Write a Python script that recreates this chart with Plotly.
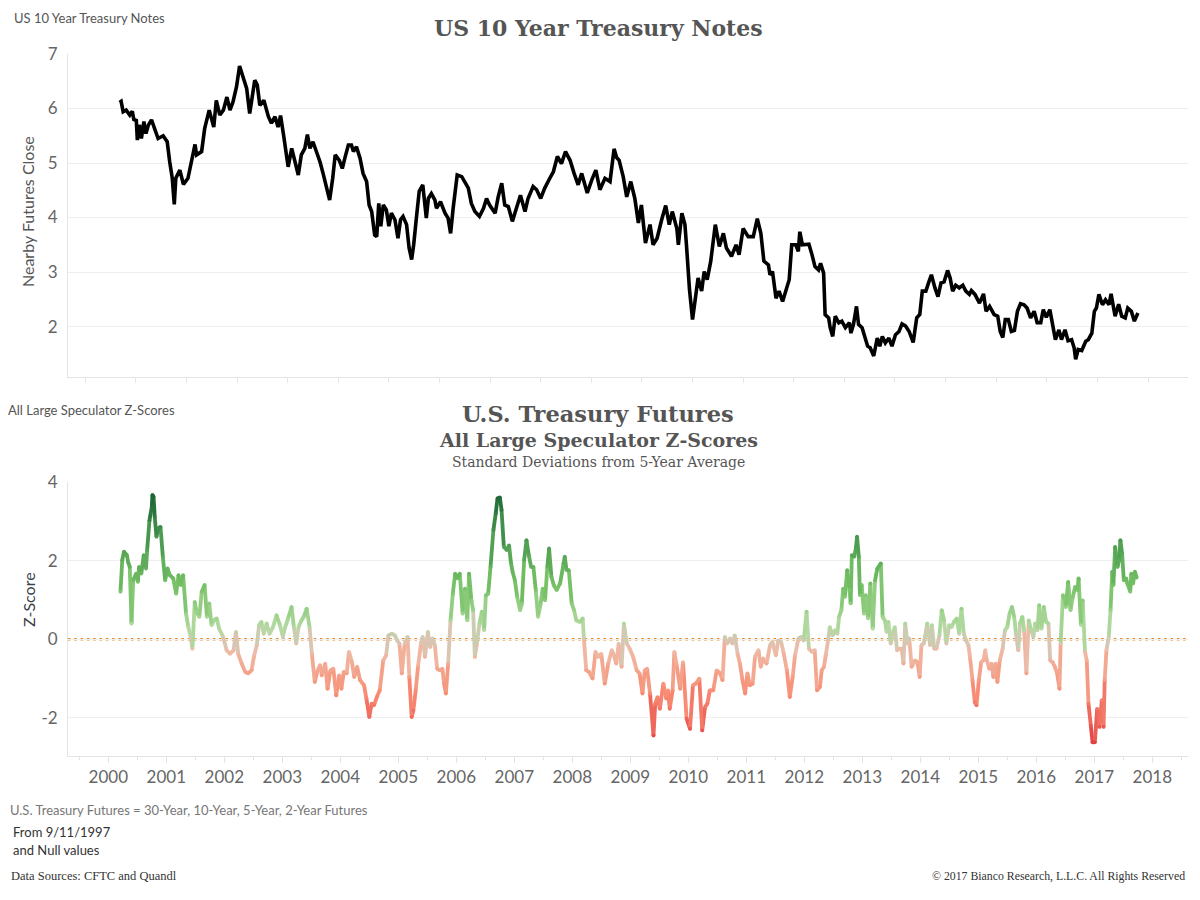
import plotly.graph_objects as go
from plotly.colors import sample_colorscale

# ---------------- DATA ----------------
TSY_YEAR = [1997.68,1997.71,1997.75,1997.81,1997.88,1997.93,1997.96,1998.01,1998.03,1998.07,1998.11,1998.16,1998.20,1998.25,1998.31,1998.37,1998.44,1998.54,1998.62,1998.67,1998.72,1998.76,1998.79,1998.87,1998.94,1999.03,1999.10,1999.17,1999.20,1999.30,1999.36,1999.45,1999.54,1999.59,1999.66,1999.73,1999.80,1999.86,1999.92,1999.99,2000.05,2000.12,2000.19,2000.25,2000.35,2000.40,2000.45,2000.53,2000.62,2000.68,2000.75,2000.81,2000.86,2000.92,2000.98,2001.01,2001.08,2001.14,2001.21,2001.27,2001.34,2001.39,2001.44,2001.50,2001.57,2001.64,2001.70,2001.77,2001.83,2001.89,2001.94,2002.02,2002.08,2002.13,2002.20,2002.26,2002.30,2002.36,2002.43,2002.49,2002.56,2002.61,2002.66,2002.72,2002.76,2002.80,2002.84,2002.89,2002.95,2003.00,2003.05,2003.12,2003.18,2003.23,2003.28,2003.35,2003.40,2003.45,2003.49,2003.55,2003.60,2003.67,2003.71,2003.74,2003.78,2003.84,2003.91,
            2003.94,2004.02,2004.11,2004.17,2004.22,2004.27,2004.35,2004.44,2004.50,2004.57,2004.63,2004.70,2004.79,2004.87,2004.93,2004.99,2005.10,2005.16,2005.23,2005.29,2005.36,2005.44,2005.52,2005.60,2005.69,2005.75,2005.85,2005.92,2006.00,2006.08,2006.18,2006.25,2006.33,2006.41,2006.49,2006.58,2006.66,2006.74,2006.81,2006.92,2007.01,2007.09,2007.17,2007.27,2007.37,2007.45,2007.50,2007.55,2007.63,2007.70,2007.78,2007.86,2007.93,2007.99,2008.07,2008.16,2008.22,2008.30,2008.39,2008.47,2008.54,2008.60,2008.69,2008.72,2008.79,2008.85,2008.88,2008.94,2009.00,2009.05,2009.11,2009.18,2009.23,2009.29,2009.36,2009.45,2009.53,2009.61,2009.67,2009.77,2009.86,2009.92,2010.00,2010.10,2010.20,2010.28,2010.35,2010.41,2010.50,2010.53,2010.58,2010.65,2010.71,2010.78,2010.85,2010.91,2010.96,
            2011.04,2011.09,2011.12,2011.17,2011.24,2011.30,2011.36,2011.42,2011.49,2011.53,2011.59,2011.62,2011.69,2011.72,2011.77,2011.82,2011.89,2011.95,2012.02,2012.10,2012.13,2012.18,2012.24,2012.28,2012.35,2012.42,2012.46,2012.51,2012.58,2012.65,2012.70,2012.75,2012.81,2012.88,2012.94,2013.01,2013.08,2013.14,2013.21,2013.28,2013.36,2013.43,2013.49,2013.54,2013.61,2013.67,2013.72,2013.79,2013.85,2013.91,2013.97,2014.04,2014.09,2014.14,2014.20,2014.27,2014.34,2014.40,2014.47,2014.51,2014.58,2014.67,2014.75,2014.80,2014.87,2014.96,2015.03,2015.08,2015.13,2015.18,2015.24,2015.30,2015.36,2015.42,2015.48,2015.55,2015.61,2015.68,2015.75,2015.81,2015.88,2015.93,2015.99,2016.06,2016.10,2016.17,2016.24,2016.29,2016.36,2016.42,2016.49,2016.54,2016.57,2016.62,2016.69,2016.77,2016.82,2016.89,2016.94,2016.98,2017.03,2017.10,2017.16,2017.23,2017.27,2017.35,2017.42,2017.48,2017.55,2017.60,2017.67,2017.73,2017.80]
TSY_CLOSE = [6.11,6.13,5.94,5.97,5.88,5.95,5.80,5.78,5.42,5.70,5.45,5.76,5.54,5.70,5.79,5.63,5.45,5.50,5.39,5.02,4.72,4.24,4.72,4.87,4.61,4.72,5.05,5.34,5.15,5.21,5.63,5.97,5.66,6.15,5.88,5.97,6.21,5.97,6.12,6.40,6.78,6.55,6.37,5.91,6.52,6.43,6.06,6.15,5.85,5.73,5.85,5.66,5.87,5.51,5.15,4.93,5.27,5.05,4.78,5.15,5.27,5.52,5.27,5.39,5.21,5.02,4.81,4.54,4.32,4.72,5.15,5.05,4.90,5.09,5.33,5.33,5.21,5.30,5.09,4.81,4.66,4.23,4.11,3.68,3.65,4.26,3.84,4.23,4.14,3.84,4.08,3.96,3.62,3.96,4.02,3.87,3.44,3.23,3.50,4.05,4.48,4.60,4.29,3.99,4.35,4.44,4.32,
             4.17,4.29,4.08,3.99,3.71,4.17,4.78,4.75,4.66,4.54,4.26,4.11,4.02,4.17,4.35,4.23,4.08,4.38,4.63,4.23,4.20,3.93,4.17,4.41,4.11,4.35,4.57,4.51,4.35,4.54,4.72,4.84,5.12,4.99,5.21,5.05,4.81,4.60,4.81,4.45,4.69,4.87,4.51,4.72,4.66,5.26,5.10,5.05,4.75,4.38,4.66,4.35,3.90,4.23,3.53,3.87,3.50,3.62,3.96,4.22,3.87,4.11,3.80,3.50,4.08,3.87,3.50,2.68,2.13,2.52,2.89,2.65,3.01,2.86,3.20,3.87,3.47,3.71,3.44,3.29,3.50,3.32,3.80,3.65,3.65,3.98,3.71,3.20,3.13,2.95,3.01,2.52,2.65,2.46,2.65,2.86,3.50,
             3.50,3.38,3.74,3.50,3.50,3.51,3.32,3.10,3.04,3.16,2.98,2.22,2.16,1.98,1.82,2.19,2.07,2.10,1.98,2.07,1.88,2.04,2.37,2.04,1.98,1.76,1.64,1.61,1.46,1.79,1.64,1.82,1.70,1.79,1.64,1.85,1.91,2.05,2.01,1.91,1.71,2.16,2.22,2.65,2.65,2.82,2.95,2.71,2.55,2.80,2.82,3.03,2.89,2.65,2.76,2.71,2.76,2.65,2.59,2.66,2.59,2.43,2.60,2.28,2.37,2.22,2.19,1.91,1.80,2.13,2.13,1.91,1.93,2.28,2.42,2.40,2.34,2.16,2.28,2.07,2.07,2.31,2.17,2.31,2.10,1.76,1.94,1.76,1.94,1.74,1.76,1.61,1.40,1.58,1.56,1.73,1.76,1.88,2.28,2.34,2.59,2.40,2.49,2.40,2.60,2.19,2.41,2.19,2.16,2.34,2.28,2.10,2.25]

Z_YEAR = [2000.21,2000.24,2000.27,2000.32,2000.34,2000.37,2000.40,2000.43,2000.48,2000.51,2000.53,2000.57,2000.61,2000.65,2000.67,2000.71,2000.75,2000.76,2000.78,2000.80,2000.83,2000.86,2000.90,2000.94,2000.98,2001.02,2001.06,2001.12,2001.17,2001.21,2001.25,2001.29,2001.34,2001.38,2001.42,2001.45,2001.49,2001.52,2001.57,2001.61,2001.66,2001.70,2001.74,2001.78,2001.82,2001.87,2001.91,2001.98,2002.04,2002.10,2002.16,2002.20,2002.24,2002.30,2002.36,2002.41,2002.47,2002.51,2002.56,2002.60,2002.64,2002.68,2002.73,2002.78,2002.84,2002.90,2002.96,2003.01,2003.05,2003.10,2003.16,2003.20,2003.24,2003.28,2003.33,2003.37,2003.42,2003.47,2003.51,2003.56,2003.60,2003.65,2003.68,2003.74,2003.78,2003.83,2003.88,2003.93,2003.98,2004.02,2004.06,2004.11,2004.15,2004.20,2004.24,2004.29,2004.34,2004.41,2004.45,2004.50,2004.54,2004.58,2004.63,2004.68,2004.74,2004.79,2004.83,2004.89,2004.94,2004.98,2005.02,2005.06,2005.11,2005.16,2005.19,2005.23,2005.26,2005.30,2005.34,2005.39,2005.42,2005.46,2005.51,2005.55,2005.59,2005.63,2005.67,2005.72,2005.76,2005.79,2005.82,2005.86,2005.90,
          2005.94,2005.98,2006.02,2006.06,2006.11,2006.15,2006.19,2006.22,2006.26,2006.29,2006.32,2006.35,2006.40,2006.44,2006.48,2006.51,2006.55,2006.59,2006.64,2006.68,2006.71,2006.75,2006.78,2006.82,2006.87,2006.91,2006.94,2006.97,2007.01,2007.05,2007.10,2007.13,2007.17,2007.21,2007.25,2007.29,2007.33,2007.37,2007.41,2007.45,2007.49,2007.53,2007.57,2007.60,2007.64,2007.68,2007.73,2007.79,2007.85,2007.87,2007.90,2007.94,2007.99,2008.03,2008.07,2008.13,2008.18,2008.20,2008.24,2008.29,2008.35,2008.40,2008.45,2008.50,2008.56,2008.62,2008.68,2008.72,2008.76,2008.80,2008.85,2008.89,2008.94,2008.99,2009.05,2009.11,2009.16,2009.21,2009.25,2009.29,2009.34,2009.40,2009.43,2009.47,2009.51,2009.57,2009.62,2009.65,2009.68,2009.73,2009.76,2009.80,2009.86,2009.91,2009.97,2010.03,2010.08,2010.13,2010.19,2010.24,2010.29,2010.33,2010.37,2010.43,2010.49,2010.55,2010.59,2010.63,2010.67,2010.72,2010.76,2010.80,2010.85,2010.89,2010.93,2010.98,2011.02,2011.06,2011.11,2011.15,2011.21,2011.25,2011.29,2011.35,2011.41,2011.45,2011.51,2011.55,2011.60,2011.64,2011.70,2011.75,2011.80,2011.84,2011.90,2011.95,2011.99,2012.04,2012.08,2012.13,2012.18,2012.22,
          2012.27,2012.30,2012.34,2012.37,2012.41,2012.44,2012.49,2012.53,2012.57,2012.60,2012.64,2012.67,2012.70,2012.74,2012.78,2012.80,2012.82,2012.86,2012.89,2012.91,2012.94,2012.96,2012.99,2013.03,2013.06,2013.10,2013.14,2013.18,2013.22,2013.26,2013.32,2013.35,2013.39,2013.42,2013.45,2013.49,2013.52,2013.56,2013.60,2013.64,2013.68,2013.71,2013.74,2013.78,2013.81,2013.85,2013.91,2013.95,2013.99,2014.02,2014.06,2014.12,2014.17,2014.20,2014.24,2014.28,2014.33,2014.37,2014.41,2014.45,2014.50,2014.54,2014.58,2014.63,2014.67,2014.71,2014.75,2014.79,2014.83,2014.86,2014.90,2014.94,2014.97,2015.01,2015.05,2015.09,2015.12,2015.14,2015.19,2015.23,2015.26,2015.30,2015.33,2015.37,2015.42,2015.46,2015.50,2015.54,2015.58,2015.62,2015.65,2015.69,2015.72,2015.76,2015.79,2015.83,2015.87,2015.91,2015.95,2015.98,2016.02,2016.05,2016.09,2016.13,2016.17,2016.21,2016.24,2016.28,2016.32,2016.36,2016.40,2016.42,2016.46,2016.48,2016.51,2016.55,2016.59,2016.63,2016.67,2016.71,2016.73,2016.77,2016.80,2016.84,2016.87,2016.90,2016.94,2016.97,2017.01,2017.05,2017.09,2017.13,2017.16,2017.18,2017.21,2017.25,2017.28,2017.31,2017.33,2017.36,2017.40,2017.43,2017.45,2017.48,2017.51,2017.55,2017.57,2017.62,2017.64,2017.67,2017.70,2017.73]
Z_SCORE = [1.21,2.01,2.23,2.14,1.97,1.84,0.40,1.50,1.67,1.46,1.84,1.67,2.14,1.80,2.27,3.03,3.37,3.67,3.63,3.12,2.61,2.82,2.86,2.10,1.50,1.80,1.63,1.55,1.16,1.63,1.38,1.63,0.65,0.31,0.06,-0.24,0.95,0.70,0.57,1.21,1.38,0.57,0.91,0.36,0.48,0.53,0.27,0.06,-0.28,-0.37,-0.28,0.19,-0.37,-0.62,-0.83,-0.87,-0.79,-0.45,-0.15,0.36,0.44,0.14,0.40,0.14,0.31,0.61,0.36,0.06,0.31,0.53,0.82,0.31,-0.11,0.31,0.48,0.57,0.78,0.31,-0.37,-1.09,-0.83,-0.66,-0.92,-0.62,-1.26,-0.79,-0.75,-1.43,-0.92,-1.26,-0.83,-0.87,-0.32,-0.58,-0.96,-0.70,-1.04,-1.17,-1.51,-1.98,-1.64,-1.68,-1.47,-1.30,-0.54,-0.41,0.10,0.14,0.10,-0.03,-0.11,-0.87,-0.11,0.06,-0.96,-1.98,-1.81,-1.30,-0.70,-0.11,0.06,-0.45,0.19,-0.20,0.02,-0.15,-0.75,-0.79,-0.75,-1.13,-1.38,-0.62,0.48,
           1.16,1.67,1.55,1.67,0.65,1.29,0.48,1.67,0.99,0.74,-0.45,-0.15,0.40,0.70,0.23,1.12,1.16,1.84,2.78,3.20,3.58,3.61,3.29,2.35,2.27,2.39,1.97,1.72,1.50,1.08,0.74,0.91,2.01,2.52,2.14,1.84,1.84,1.25,0.57,0.87,1.29,0.99,1.84,2.31,1.59,1.38,1.25,1.42,1.93,2.10,1.76,1.76,0.91,0.74,0.48,0.44,0.53,0.02,-0.79,-0.83,-1.00,-0.32,-0.45,-0.37,-1.13,-0.62,-0.28,-0.41,-0.62,-0.11,-0.70,0.40,-0.11,-0.24,-0.45,-0.79,-0.87,-1.38,-0.79,-0.75,-1.38,-2.45,-1.64,-1.47,-1.77,-1.13,-1.51,-1.30,-1.77,-1.30,-0.32,-0.66,-1.26,-0.58,-2.02,-2.28,-1.17,-1.13,-1.00,-2.32,-1.72,-1.64,-1.30,-1.30,-0.79,-0.87,-1.04,0.06,-0.11,0.02,-0.11,0.10,-0.37,-0.62,-1.00,-1.38,-0.87,-1.17,-1.13,-0.45,-0.28,-0.70,-0.49,-0.62,-0.15,-0.07,-0.41,-0.03,-0.07,-0.32,-0.79,-1.47,-0.96,-0.41,0.02,0.06,-0.03,0.70,-0.24,-0.32,-0.28,-1.30,
           -1.21,-0.79,-0.70,-0.41,-0.03,0.31,0.10,0.23,0.14,0.57,0.74,1.29,1.08,1.76,1.25,0.91,2.14,2.10,2.31,2.61,2.10,1.12,1.38,0.65,1.12,0.53,1.42,0.27,1.50,1.80,1.93,0.57,0.48,0.19,0.44,-0.11,0.14,0.31,-0.28,-0.24,-0.24,-0.62,0.40,-0.11,0.02,-0.70,-0.54,-0.58,-0.96,-0.15,-0.11,0.40,-0.15,0.36,-0.24,-0.24,0.10,0.74,0.48,-0.11,0.36,0.31,0.44,0.53,0.14,0.78,0.14,-0.03,-0.15,-0.49,-1.04,-1.60,-1.68,-1.04,-0.58,-0.54,-0.28,-0.49,-0.75,-0.62,-0.96,-0.62,-1.09,-0.54,-0.24,0.23,0.31,0.65,0.82,0.57,0.14,-0.28,0.40,0.57,0.23,-0.87,0.48,0.23,0.06,0.40,0.23,0.87,0.27,0.82,0.44,0.40,-0.54,-0.58,-0.70,-0.87,-1.26,-0.11,1.12,1.04,0.82,1.46,0.74,1.08,1.33,1.25,1.55,0.36,0.99,-0.32,-0.54,-1.64,-2.19,-2.62,-2.62,-1.77,-2.23,-1.55,-2.23,-1.04,-0.28,0.06,0.74,1.72,1.38,2.35,1.84,2.01,2.52,2.18,1.50,1.55,1.42,1.21,1.67,1.42,1.72,1.57]

TOP_TICK_YEARS = list(range(1997, 2019))
TOP_Y_TICKS = [2, 3, 4, 5, 6, 7]
TOP_Y_LABELS = ["2", "3", "4", "5", "6", "7"]
YEAR_TICKS = list(range(2000, 2019))
YEAR_LABELS = ["2000", "2001", "2002", "2003", "2004", "2005", "2006", "2007", "2008", "2009",
               "2010", "2011", "2012", "2013", "2014", "2015", "2016", "2017", "2018"]
Z_Y_TICKS = [-2, 0, 2, 4]
Z_Y_LABELS = ["-2", "0", "2", "4"]

# ---------------- STYLE ----------------
W, H = 1200, 900
SANS = "Lato, 'Open Sans', sans-serif"
SERIF = "'DejaVu Serif', 'Liberation Serif', serif"
SERIF2 = "'Liberation Serif', serif"
GRID = "#efefef"
AXLINE = "#e4e4e4"
TICKC = "#666666"

ZSCALE = [
    [0.00, "rgb(163,18,58)"],
    [0.15, "rgb(227,63,67)"],
    [0.32, "rgb(248,140,115)"],
    [0.46, "rgb(240,186,165)"],
    [0.50, "rgb(210,200,182)"],
    [0.54, "rgb(178,218,160)"],
    [0.68, "rgb(118,193,102)"],
    [0.84, "rgb(72,152,78)"],
    [1.00, "rgb(25,95,50)"],
]
CMIN, CMAX = -3.8, 3.8


def px_x(p):
    return p / W


def px_y(p):
    return 1 - p / H


fig = go.Figure()

# top: treasury line
fig.add_trace(go.Scatter(x=TSY_YEAR, y=TSY_CLOSE, mode="lines",
                         line=dict(color="#000000", width=3.6),
                         xaxis="x", yaxis="y", hoverinfo="skip", showlegend=False))

# bottom: z-score line, coloured by value
NB = 48
bins = {}
for i in range(len(Z_YEAR) - 1):
    v = (Z_SCORE[i] + Z_SCORE[i + 1]) / 2
    b = int((v - CMIN) / (CMAX - CMIN) * NB)
    b = max(0, min(NB - 1, b))
    xs, ys = bins.setdefault(b, ([], []))
    xs += [Z_YEAR[i], Z_YEAR[i + 1], None]
    ys += [Z_SCORE[i], Z_SCORE[i + 1], None]
for b, (xs, ys) in sorted(bins.items()):
    col = sample_colorscale(ZSCALE, [(b + 0.5) / NB])[0]
    fig.add_trace(go.Scatter(x=xs, y=ys, mode="lines", line=dict(color=col, width=3.8),
                             xaxis="x2", yaxis="y2", hoverinfo="skip", showlegend=False,
                             connectgaps=False))
fig.add_trace(go.Scatter(x=Z_YEAR, y=Z_SCORE, mode="markers",
                         marker=dict(size=3.8, color=Z_SCORE, colorscale=ZSCALE,
                                     cmin=CMIN, cmax=CMAX, showscale=False),
                         xaxis="x2", yaxis="y2", hoverinfo="skip", showlegend=False))

# zero reference line
fig.add_shape(type="line", xref="x2 domain", yref="y2", x0=0, x1=1, y0=0, y1=0,
              line=dict(color="#E8871E", width=2.5, dash="2.5px,3.8px"), layer="below")

XDOM = [px_x(68), px_x(1188)]

fig.update_layout(
    width=W, height=H, autosize=False,
    margin=dict(l=0, r=0, t=0, b=0, pad=0),
    paper_bgcolor="white", plot_bgcolor="white",
    showlegend=False,
    xaxis=dict(domain=XDOM, anchor="y", range=[1996.66, 2018.79], automargin=False,
               showgrid=False, zeroline=False, showline=True, linecolor=AXLINE, linewidth=1,
               tickmode="array", tickvals=TOP_TICK_YEARS, ticks="outside", ticklen=5,
               tickcolor=AXLINE, showticklabels=False),
    yaxis=dict(domain=[px_y(377), px_y(54)], anchor="x", range=[1.075, 7.0], automargin=False,
               showgrid=True, gridcolor=GRID, zeroline=False, showline=True,
               linecolor=AXLINE, tickmode="array", tickvals=TOP_Y_TICKS, ticktext=TOP_Y_LABELS,
               ticks="", ticklabelstandoff=6, tickfont=dict(family=SANS, size=17, color=TICKC)),
    xaxis2=dict(domain=XDOM, anchor="y2", range=[1999.305, 2018.616], automargin=False,
                showgrid=False, zeroline=False, showline=True, linecolor=AXLINE, linewidth=1,
                tickmode="array", tickvals=YEAR_TICKS, ticktext=YEAR_LABELS,
                ticks="outside", ticklen=6, tickcolor=AXLINE,
                tickfont=dict(family=SANS, size=17, color=TICKC),
                minor=dict(ticks="outside", ticklen=3, tickcolor=AXLINE, dtick=0.5, tick0=2000)),
    yaxis2=dict(domain=[px_y(756), px_y(482)], anchor="x2", range=[-2.97, 4.0], automargin=False,
                showgrid=True, gridcolor=GRID, zeroline=False, showline=True, linecolor=AXLINE,
                tickmode="array", tickvals=Z_Y_TICKS, ticktext=Z_Y_LABELS, ticks="",
                ticklabelstandoff=6, tickfont=dict(family=SANS, size=17, color=TICKC)),
)

ann = []


def add_text(text, x, y, size, family, color, xanchor="left", bold=False, angle=0):
    if bold:
        text = "<b>" + text + "</b>"
    ann.append(dict(text=text, x=px_x(x), y=px_y(y), xref="paper", yref="paper",
                    xanchor=xanchor, yanchor="middle", showarrow=False, textangle=angle,
                    font=dict(family=family, size=size, color=color)))


add_text("US 10 Year Treasury Notes", 12, 18, 13, SANS, "#555555")
add_text("US 10 Year Treasury Notes", 598, 28, 22, SERIF, "#555555", "center", True)
add_text("Nearby Futures Close", 28, 212, 16, SANS, "#555555", "center", angle=-90)
add_text("All Large Speculator Z-Scores", 6, 410, 13, SANS, "#555555")
add_text("U.S. Treasury Futures", 598, 414, 22.5, SERIF, "#555555", "center", True)
add_text("All Large Speculator Z-Scores", 598, 440, 19, SERIF, "#555555", "center", True)
add_text("Standard Deviations from 5-Year Average", 598, 462, 14, SERIF, "#555555", "center")
add_text("Z-Score", 28, 600, 16, SANS, "#3a3f4a", "center", angle=-90)
add_text("U.S. Treasury Futures = 30-Year, 10-Year, 5-Year, 2-Year Futures", 8, 810, 13, SANS, "#777777")
add_text("From 9/11/1997", 11, 832, 13, SANS, "#333333")
add_text("and Null values", 11, 850, 13, SANS, "#333333")
add_text("Data Sources: CFTC and Quandl", 9, 876, 12.5, SERIF2, "#333333")
add_text("\u00a9 2017 Bianco Research, L.L.C. All Rights Reserved", 1187, 876, 11.8, SERIF2,
         "#333333", "right")

fig.update_layout(annotations=ann)

fig.write_html("out.html", config={"displayModeBar": False},
               post_script="document.body.style.margin='0px';")
